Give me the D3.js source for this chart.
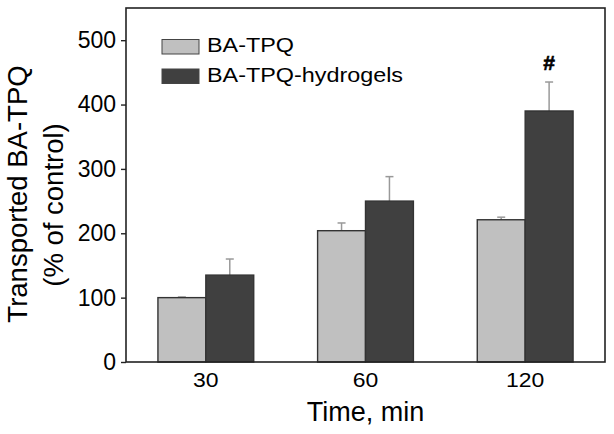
<!DOCTYPE html>
<html>
<head>
<meta charset="utf-8">
<script src="https://cdn.jsdelivr.net/npm/d3@7"></script>
<style>
  html, body { margin: 0; padding: 0; background: #fff; }
  svg { display: block; font-family: "Liberation Sans", Arial, Helvetica, sans-serif; }
</style>
</head>
<body>
<svg id="chart" width="614" height="434"></svg>
<script>
const categories = ["30", "60", "120"];
const seriesNames = ["BA-TPQ", "BA-TPQ-hydrogels"];
const baTPQ = [100, 204, 221];
const baTPQErr = [1, 12, 4];
const hydrogels = [135, 250, 390];
const hydrogelsErr = [25, 38, 45];
const yTicks = [0, 100, 200, 300, 400, 500];
const significance = ["", "", "#"];

const colors = ["#c0c0c0", "#404040"];
const svg = d3.select("#chart");
const L = 126, R = 605, T = 8, B = 362;

const x = d3.scaleBand().domain(categories).range([L, R]).paddingInner(0.4).paddingOuter(0.2);
const xs = d3.scaleBand().domain(seriesNames).range([0, x.bandwidth()]);
const y = d3.scaleLinear().domain([0, 550]).range([B, T]);

const rows = categories.map((c, i) => ({
  cat: c,
  vals: [
    { s: seriesNames[0], v: baTPQ[i], e: baTPQErr[i], c: colors[0] },
    { s: seriesNames[1], v: hydrogels[i], e: hydrogelsErr[i], c: colors[1] }
  ],
  sig: significance[i]
}));

// error bars (upper only)
const g = svg.append("g");
rows.forEach(r => {
  r.vals.forEach(d => {
    const cx = x(r.cat) + xs(d.s) + xs.bandwidth() / 2;
    g.append("line").attr("x1", cx).attr("x2", cx)
      .attr("y1", y(d.v)).attr("y2", y(d.v + d.e))
      .attr("stroke", "#999").attr("stroke-width", 1.5);
    g.append("line").attr("x1", cx - 4).attr("x2", cx + 4)
      .attr("y1", y(d.v + d.e)).attr("y2", y(d.v + d.e))
      .attr("stroke", "#999").attr("stroke-width", 1.5);
  });
});

// bars
rows.forEach(r => {
  g.selectAll(null).data(r.vals).enter().append("rect")
    .attr("x", d => x(r.cat) + xs(d.s))
    .attr("y", d => y(d.v))
    .attr("width", xs.bandwidth())
    .attr("height", d => B - y(d.v))
    .attr("fill", d => d.c)
    .attr("stroke", "#333").attr("stroke-width", 1.4);
  if (r.sig) {
    const d = r.vals[1];
    svg.append("text")
      .attr("x", x(r.cat) + xs(d.s) + xs.bandwidth() / 2)
      .attr("y", y(d.v + d.e) - 12)
      .attr("text-anchor", "middle")
      .attr("font-weight", "bold").attr("font-size", 21)
      .attr("stroke", "#000").attr("stroke-width", 0.6)
      .attr("fill", "#000").text(r.sig);
  }
});

// frame
svg.append("rect").attr("x", L).attr("y", T).attr("width", R - L).attr("height", B - T)
  .attr("fill", "none").attr("stroke", "#222").attr("stroke-width", 1.6);

// y axis
const yAxis = svg.append("g").attr("transform", `translate(${L},0)`)
  .call(d3.axisLeft(y).tickValues(yTicks).tickSize(5).tickPadding(5).tickFormat(d3.format("d")));
yAxis.select(".domain").remove();
yAxis.selectAll("line").attr("stroke", "#222").attr("stroke-width", 1.4);
yAxis.selectAll("text").attr("font-size", 23).attr("fill", "#000")
  .attr("font-family", "'Liberation Sans', Arial, sans-serif");

// x axis
const xAxis = svg.append("g").attr("transform", `translate(0,${B})`)
  .call(d3.axisBottom(x).tickSize(0).tickPadding(0));
xAxis.select(".domain").remove();
xAxis.selectAll(".tick text").attr("font-size", 20.5).attr("fill", "#000")
  .attr("dy", null).attr("y", 25)
  .attr("transform", "scale(1.12,1)")
  .attr("x", 0)
  .attr("font-family", "'Liberation Sans', Arial, sans-serif");
xAxis.selectAll(".tick").attr("transform", d => `translate(${x(d) + x.bandwidth() / 2},0)`);

// axis titles
svg.append("text").attr("x", (L + R) / 2).attr("y", 421)
  .attr("text-anchor", "middle").attr("font-size", 27).attr("fill", "#000")
  .text("Time, min");
svg.append("text").attr("transform", "translate(27,194) rotate(-90)")
  .attr("text-anchor", "middle").attr("font-size", 27.5).attr("fill", "#000")
  .text("Transported BA-TPQ");
svg.append("text").attr("transform", "translate(63,205) rotate(-90)")
  .attr("text-anchor", "middle").attr("font-size", 27.5).attr("fill", "#000")
  .text("(% of control)");

// legend
const leg = svg.append("g");
seriesNames.forEach((s, i) => {
  const yy = 39.5 + i * 29.5;
  leg.append("rect").attr("x", 162).attr("y", yy).attr("width", 37).attr("height", 14.5)
    .attr("fill", colors[i]).attr("stroke", "#444").attr("stroke-width", 1);
  leg.append("text").attr("transform", `translate(207,${yy + 12.8}) scale(1.14,1)`)
    .attr("font-size", 20.5).attr("fill", "#000").text(s);
});
</script>
</body>
</html>
